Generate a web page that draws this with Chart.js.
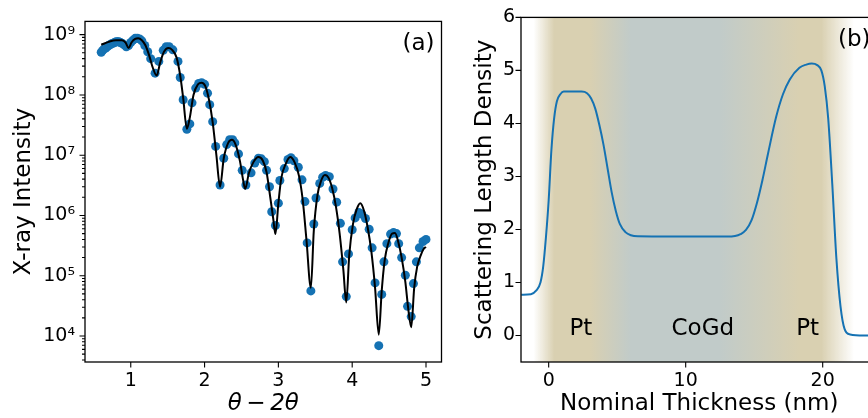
<!DOCTYPE html>
<html><head><meta charset="utf-8">
<script src="https://cdn.jsdelivr.net/npm/chart.js@4/dist/chart.umd.min.js"></script>
<style>
html,body{margin:0;padding:0;background:#fff;overflow:hidden;}
#wrap{position:relative;width:868px;height:418px;overflow:hidden;background:#fff;}
#c1{position:absolute;left:0;top:0;}
#c2{position:absolute;left:440px;top:0;}
</style></head><body><div id="wrap">
<canvas id="c1" width="460" height="418" style="width:460px;height:418px"></canvas>
<canvas id="c2" width="460" height="418" style="width:460px;height:418px"></canvas>
</div>
<script>
// ---------- Panel (a): X-ray reflectivity ----------
const measTheta = [0.60,0.62,0.64,0.66,0.68,0.70,0.72,0.74,0.76,0.78,0.80,0.82,0.84,0.86,0.88,0.91,0.94,0.97,1.00,1.03,1.06,1.09,1.12,1.15,1.19,1.23,1.27,1.33,1.38,1.44,1.48,1.52,1.57,1.64,1.67,1.71,1.76,1.80,1.83,1.88,1.92,1.96,2.00,2.04,2.07,2.11,2.15,2.21,2.26,2.30,2.34,2.38,2.41,2.46,2.51,2.56,2.63,2.68,2.73,2.77,2.81,2.84,2.88,2.91,2.96,3.00,3.02,3.08,3.13,3.17,3.21,3.27,3.32,3.36,3.39,3.44,3.48,3.51,3.56,3.60,3.64,3.69,3.74,3.79,3.84,3.87,3.92,3.95,4.00,4.04,4.09,4.13,4.18,4.23,4.27,4.31,4.36,4.40,4.43,4.47,4.52,4.56,4.60,4.63,4.67,4.72,4.75,4.80,4.83,4.87,4.91,4.96,5.00];
const measIntensity = [5.1e8,5.5e8,5.8e8,6.0e8,6.3e8,6.6e8,6.8e8,7.1e8,7.2e8,7.4e8,7.6e8,7.6e8,7.6e8,7.4e8,7.2e8,6.8e8,6.3e8,6.6e8,7.4e8,8.1e8,8.7e8,8.7e8,8.5e8,7.9e8,6.6e8,5.2e8,4.0e8,2.3e8,3.6e8,5.5e8,6.3e8,6.3e8,5.6e8,3.6e8,1.95e8,8.3e7,2.7e7,3.3e7,7.4e7,1.3e8,1.55e8,1.6e8,1.5e8,1.07e8,6.9e7,3.6e7,1.4e7,3.2e6,8.9e6,1.5e7,1.8e7,1.8e7,1.6e7,1.05e7,5.6e6,3.2e6,5.1e6,7.4e6,8.9e6,8.7e6,7.8e6,5.6e6,3.0e6,1.15e6,6.8e5,1.6e6,3.8e6,6.0e6,8.5e6,9.1e6,8.1e6,6.3e6,3.9e6,1.7e6,3.5e5,5.6e4,7.2e5,1.95e6,3.4e6,4.3e6,4.6e6,4.4e6,2.75e6,1.66e6,7.4e5,1.7e5,4.5e4,2.3e5,5.8e5,9.1e5,1.12e6,1.05e6,8.9e5,5.9e5,2.9e5,7.6e4,6.9e3,4.9e4,1.7e5,3.4e5,4.9e5,5.2e5,5.0e5,3.4e5,2.0e5,1.02e5,3.1e4,2.1e4,7.4e4,1.7e5,2.9e5,3.7e5,4.0e5];
const fitTheta = [0.60,0.70,0.80,0.88,0.93,0.97,1.01,1.06,1.10,1.15,1.20,1.25,1.30,1.35,1.40,1.45,1.51,1.56,1.62,1.67,1.71,1.76,1.80,1.85,1.91,1.96,2.01,2.06,2.11,2.16,2.21,2.26,2.32,2.37,2.42,2.48,2.52,2.55,2.60,2.66,2.73,2.79,2.84,2.89,2.93,2.96,3.00,3.04,3.10,3.16,3.22,3.28,3.33,3.38,3.44,3.48,3.53,3.58,3.63,3.68,3.73,3.78,3.83,3.88,3.92,3.96,4.01,4.06,4.11,4.16,4.21,4.26,4.31,4.36,4.40,4.44,4.49,4.54,4.58,4.62,4.67,4.72,4.76,4.80,4.84,4.88,4.93,4.97,5.00];
const fitIntensity = [6.8e8,7.6e8,8.1e8,8.1e8,7.4e8,6.0e8,7.4e8,8.5e8,8.7e8,8.1e8,6.6e8,4.5e8,2.8e8,2.1e8,3.5e8,5.2e8,6.0e8,5.6e8,4.2e8,2.1e8,8.9e7,2.75e7,4.2e7,1.0e8,1.5e8,1.6e8,1.4e8,8.3e7,3.5e7,1.0e7,3.0e6,8.9e6,1.6e7,1.8e7,1.5e7,7.9e6,4.0e6,2.75e6,5.0e6,7.6e6,9.3e6,8.1e6,5.2e6,2.0e6,8.9e5,4.9e5,1.6e6,4.2e6,7.2e6,9.3e6,7.6e6,4.5e6,1.8e6,4.0e5,6.3e4,5.6e5,2.2e6,3.8e6,4.7e6,4.2e6,2.8e6,1.4e6,5.0e5,1.26e5,3.6e4,2.2e5,7.1e5,1.26e6,1.6e6,1.2e6,6.3e5,2.5e5,6.3e4,1.05e4,5.6e4,1.8e5,3.5e5,5.0e5,5.1e5,3.8e5,2.0e5,7.9e4,2.8e4,1.4e4,6.3e4,1.4e5,2.2e5,2.8e5,3.0e5];
const xTicksA = [1,2,3,4,5];
const yTickExpA = [4,5,6,7,8,9];

// ---------- Panel (b): scattering length density profile ----------
const depthNm = [-2.0,-1.3,-0.9,-0.6,-0.4,-0.2,0.0,0.2,0.4,0.6,0.85,1.1,2.0,2.4,2.8,3.1,3.4,3.7,4.0,4.3,4.6,4.9,5.2,5.6,6.0,6.5,10.0,13.0,13.6,14.0,14.4,14.8,15.2,15.6,16.0,16.6,17.1,17.6,18.3,18.8,19.2,19.6,19.9,20.15,20.4,20.7,21.0,21.3,21.6,22.0,23.0,24.0];
const sld = [0.77,0.78,0.85,1.0,1.3,1.85,2.55,3.5,4.1,4.42,4.55,4.6,4.6,4.6,4.57,4.47,4.28,3.97,3.6,3.15,2.7,2.35,2.1,1.95,1.89,1.87,1.865,1.865,1.875,1.91,1.99,2.17,2.5,2.93,3.42,4.12,4.55,4.83,5.05,5.11,5.13,5.1,5.0,4.7,4.1,2.85,1.45,0.55,0.12,0.02,0.0,0.0];
const xTicksB = [0,10,20];
const yTicksB = [0,1,2,3,4,5,6];
const layerNames = ['Pt','CoGd','Pt'];
const layerCentre = [2.35,11.25,18.9];
const bandStops = [-1.1,0.4,3.0,6.0,12.5,18.3,19.9,22.3];
const bandColours = ['rgba(217,208,177,0)','#d9d0b1','#d9d0b1','#c1cbc9','#c1cbc9','#d9d0b1','#d9d0b1','rgba(217,208,177,0)'];

const FONT = 'DejaVu Sans';
const BLUE = '#1572b3';
Chart.defaults.font.family = FONT;
Chart.defaults.color = '#000';

const SUP = '⁰¹²³⁴⁵⁶⁷⁸⁹';
const supNum = n => String(n).split('').map(c => SUP[+c]).join('');

const deco = {
  id: 'deco',
  beforeDatasetsDraw(chart, args, o) {
    if (!o.band) return;
    const {ctx, chartArea: a, scales: {x}} = chart;
    const g = ctx.createLinearGradient(a.left, 0, a.right, 0);
    bandStops.forEach((s, i) => {
      const t = (x.getPixelForValue(s) - a.left) / (a.right - a.left);
      g.addColorStop(Math.min(1, Math.max(0, t)), bandColours[i]);
    });
    ctx.save(); ctx.fillStyle = g;
    ctx.fillRect(a.left, a.top, a.right - a.left, a.bottom - a.top);
    ctx.restore();
  },
  afterDatasetsDraw(chart, args, o) {
    if (!o.band) return;
    const {ctx, scales: {x, y}} = chart;
    ctx.save(); ctx.fillStyle = '#000'; ctx.font = '23px "' + FONT + '"';
    ctx.textAlign = 'center'; ctx.textBaseline = 'alphabetic';
    layerNames.forEach((t, i) => ctx.fillText(t, x.getPixelForValue(layerCentre[i]), y.getPixelForValue(0)));
    ctx.restore();
  },
  afterDraw(chart, args, o) {
    const {ctx, chartArea: a, scales: {x, y}} = chart;
    ctx.save();
    ctx.strokeStyle = '#000'; ctx.lineWidth = 1.3;
    ctx.strokeRect(a.left, a.top, a.right - a.left, a.bottom - a.top);
    ctx.lineWidth = 1.1;
    ctx.beginPath();
    x.ticks.forEach(t => {
      const p = x.getPixelForValue(t.value);
      if (p < a.left - 0.5 || p > a.right + 0.5) return;
      ctx.moveTo(p, a.bottom); ctx.lineTo(p, a.bottom + 5.5);
    });
    y.ticks.forEach(t => {
      const p = y.getPixelForValue(t.value);
      if (p < a.top - 0.5 || p > a.bottom + 0.5) return;
      let len = 5.5;
      if (o.log) { const l = Math.log10(t.value); if (Math.abs(l - Math.round(l)) > 1e-6) len = 3; }
      ctx.moveTo(a.left, p); ctx.lineTo(a.left - len, p);
    });
    ctx.stroke();
    ctx.fillStyle = '#000'; ctx.font = '23px "' + FONT + '"';
    ctx.textAlign = 'right'; ctx.textBaseline = 'middle';
    ctx.fillText(o.label, a.right - 7, a.top + 23);
    ctx.restore();
  }
};
Chart.register(deco);

const tickFont = {family: FONT, size: 19};
const titleFont = {family: FONT, size: 23};

new Chart(document.getElementById('c1'), {
  type: 'scatter',
  data: {datasets: [
    {type: 'line', data: fitTheta.map((v, i) => ({x: v, y: fitIntensity[i]})), borderColor: '#000', borderWidth: 2,
     pointRadius: 0, cubicInterpolationMode: 'monotone', fill: false, order: 0},
    {type: 'scatter', data: measTheta.map((v, i) => ({x: v, y: measIntensity[i]})), backgroundColor: BLUE,
     borderWidth: 0, pointRadius: 4.5, order: 1}
  ]},
  options: {
    responsive: false, animation: false, devicePixelRatio: 1,
    layout: {padding: {left: 0, right: 18.5, top: 14, bottom: 0}},
    plugins: {legend: {display: false}, tooltip: {enabled: false}, deco: {label: '(a)', log: true}},
    scales: {
      x: {type: 'linear', min: 0.38, max: 5.21,
        afterBuildTicks: s => { s.ticks = xTicksA.map(v => ({value: v})); },
        afterFit: s => { s.height = 56; },
        grid: {display: false, drawTicks: false}, border: {display: false},
        ticks: {padding: 8, font: tickFont, color: '#000', autoSkip: false, maxRotation: 0, callback: v => String(v)},
        title: {display: true, text: 'θ\u2009−\u20092θ', font: {family: FONT, size: 23, style: 'italic'}, color: '#000', padding: {top: 0, bottom: 0}}},
      y: {type: 'logarithmic', min: 3700, max: 1.66e9,
        afterBuildTicks: s => {
          const t = [];
          for (let e = yTickExpA[0] - 1; e <= yTickExpA[yTickExpA.length - 1]; e++)
            for (let m = 1; m <= 9; m++) { const v = m * Math.pow(10, e); if (v >= s.min && v <= s.max) t.push({value: v}); }
          s.ticks = t;
        },
        afterFit: s => { s.width = 85; },
        grid: {display: false, drawTicks: false}, border: {display: false},
        ticks: {padding: 10, font: tickFont, color: '#000', autoSkip: false,
          callback: v => { const l = Math.log10(v); const r = Math.round(l);
            return (Math.abs(l - r) < 1e-6 && yTickExpA.includes(r)) ? '10' + supNum(r) : ''; }},
        title: {display: true, text: 'X-ray Intensity', font: titleFont, color: '#000', padding: {top: 10, bottom: 0}}}
    }
  }
});

new Chart(document.getElementById('c2'), {
  type: 'scatter',
  data: {datasets: [
    {type: 'line', data: depthNm.map((v, i) => ({x: v, y: sld[i]})), borderColor: BLUE, borderWidth: 2,
     pointRadius: 0, cubicInterpolationMode: 'monotone', fill: false}
  ]},
  options: {
    responsive: false, animation: false, devicePixelRatio: 1,
    layout: {padding: {left: 0, right: 22.5, top: 14, bottom: 0}},
    plugins: {legend: {display: false}, tooltip: {enabled: false}, deco: {label: '(b)', log: false, band: true}},
    scales: {
      x: {type: 'linear', min: -2.02, max: 24,
        afterBuildTicks: s => { s.ticks = xTicksB.map(v => ({value: v})); },
        afterFit: s => { s.height = 56; },
        grid: {display: false, drawTicks: false}, border: {display: false},
        ticks: {padding: 8, font: tickFont, color: '#000', autoSkip: false, maxRotation: 0, callback: v => String(v)},
        title: {display: true, text: 'Nominal Thickness (nm)', font: titleFont, color: '#000', padding: {top: 0, bottom: 0}}},
      y: {type: 'linear', min: -0.5, max: 6,
        afterBuildTicks: s => { s.ticks = yTicksB.map(v => ({value: v})); },
        afterFit: s => { s.width = 81; },
        grid: {display: false, drawTicks: false}, border: {display: false},
        ticks: {padding: 6, font: tickFont, color: '#000', autoSkip: false, callback: v => String(v)},
        title: {display: true, text: 'Scattering Length Density', font: titleFont, color: '#000', padding: {top: 31, bottom: 0}}}
    }
  }
});
</script></body></html>
